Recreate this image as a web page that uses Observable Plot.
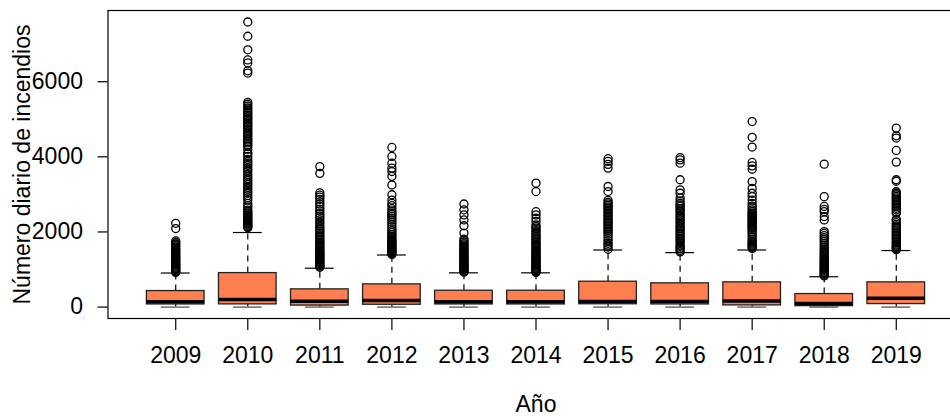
<!DOCTYPE html>
<html>
<head>
<meta charset="utf-8">
<script src="https://cdn.jsdelivr.net/npm/d3@7"></script>
<script src="https://cdn.jsdelivr.net/npm/@observablehq/plot@0.6"></script>
<style>
  html, body { margin: 0; padding: 0; background: white; overflow: hidden; }
</style>
</head>
<body>
<div id="chart"></div>
<script>
// Daily number of wildfires per year: box summaries and outlying days
const years = ["2009", "2010", "2011", "2012", "2013", "2014", "2015", "2016", "2017", "2018", "2019"];
const lower = [0, 0, 0, 0, 0, 0, 0, 0, 0, 0, 0];
const q1 = [70, 72, 40, 62, 70, 70, 75, 70, 45, 25, 80];
const median = [145, 205, 155, 173, 145, 145, 147, 147, 160, 95, 232];
const q3 = [427, 905, 472, 605, 435, 435, 675, 632, 658, 347, 658];
const upper = [907, 1985, 1035, 1387, 912, 912, 1520, 1450, 1520, 808, 1505];

const outliers = [
  // 2009
  [925, 950, 970, 995, 1020, 1040, 1065, 1090, 1115, 1140, 1160, 1190, 1215, 1240, 1270, 1295, 1320, 1350,
   1380, 1410, 1440, 1470, 1500, 1530, 1560, 1600, 1640, 1680, 1720, 1760, 2090, 2230],
  // 2010
  [2115, 2140, 2160, 2190, 2215, 2245, 2270, 2300, 2330, 2355, 2390, 2420, 2450, 2480, 2510, 2545, 2580,
   2640, 2700, 2760, 2850, 2910, 2970, 3030, 3080, 3140, 3190, 3260, 3310, 3370, 3420, 3480, 3530, 3600,
   3650, 3700, 3770, 3820, 3870, 3930, 4010, 4080, 4110, 4200, 4280, 4320, 4370, 4410, 4450, 4490, 4540,
   4580, 4620, 4660, 4710, 4750, 4800, 4840, 4890, 4930, 4980, 5020, 5070, 5110, 5160, 5200, 5250, 5300,
   5350, 5400, 5450, 6230, 6290, 6500, 6580, 6850, 7210, 7590],
  // 2011
  [1060, 1085, 1110, 1130, 1160, 1185, 1210, 1240, 1265, 1290, 1320, 1350, 1375, 1400, 1430, 1460, 1490,
   1520, 1550, 1585, 1620, 1650, 1690, 1720, 1760, 1800, 1840, 1880, 1920, 1970, 2010, 2060, 2100, 2150,
   2210, 2260, 2320, 2380, 2430, 2490, 2560, 2610, 2680, 2740, 2800, 2870, 2930, 2980, 3040, 3560, 3740],
  // 2012
  [1400, 1425, 1450, 1475, 1500, 1530, 1555, 1580, 1610, 1640, 1665, 1690, 1720, 1750, 1780, 1810, 1850,
   1890, 1930, 1980, 2030, 2080, 2140, 2200, 2260, 2320, 2370, 2420, 2470, 2510, 2560, 2620, 2700, 2760,
   2850, 2990, 3250, 3480, 3610, 3700, 3830, 4010, 4250],
  // 2013
  [930, 955, 975, 1000, 1025, 1050, 1075, 1100, 1125, 1150, 1175, 1200, 1230, 1255, 1280, 1310, 1340,
   1370, 1400, 1430, 1460, 1490, 1520, 1550, 1585, 1620, 1655, 1690, 1730, 1770, 1810, 1970, 2165, 2320,
   2455, 2590, 2745],
  // 2014
  [925, 950, 970, 995, 1020, 1045, 1070, 1095, 1120, 1145, 1170, 1200, 1225, 1250, 1280, 1305, 1335,
   1365, 1395, 1425, 1455, 1490, 1520, 1550, 1585, 1620, 1650, 1685, 1720, 1760, 1800, 1840, 1880, 1920,
   1965, 2010, 2050, 2100, 2140, 2185, 2280, 2365, 2455, 2540, 3075, 3300],
  // 2015
  [1540, 1600, 1650, 1700, 1760, 1820, 1880, 1940, 1990, 2030, 2070, 2110, 2150, 2190, 2230, 2270, 2310,
   2350, 2390, 2430, 2470, 2510, 2550, 2590, 2630, 2670, 2710, 2750, 2790, 2840, 3075, 3210, 3700, 3800,
   3880, 3950],
  // 2016
  [1470, 1510, 1560, 1600, 1640, 1700, 1750, 1790, 1830, 1880, 1920, 1965, 2010, 2050, 2100, 2140, 2180,
   2230, 2270, 2320, 2365, 2410, 2450, 2500, 2550, 2590, 2630, 2680, 2720, 2765, 2820, 2900, 3030, 3120,
   3390, 3830, 3920, 3980],
  // 2017
  [1560, 1590, 1620, 1650, 1680, 1710, 1750, 1800, 1860, 1920, 1970, 2010, 2050, 2090, 2120, 2150, 2180,
   2210, 2240, 2270, 2300, 2330, 2360, 2390, 2420, 2450, 2480, 2510, 2550, 2590, 2640, 2690, 2760, 2850,
   2940, 3030, 3160, 3340, 3670, 3760, 3850, 4260, 4520, 4940],
  // 2018
  [830, 855, 880, 905, 930, 955, 980, 1005, 1030, 1060, 1090, 1120, 1150, 1180, 1210, 1240, 1270, 1300,
   1340, 1380, 1420, 1460, 1500, 1550, 1600, 1650, 1700, 1750, 1800, 1850, 1900, 1960, 2010, 2320, 2410,
   2540, 2600, 2680, 2940, 3805],
  // 2019
  [1530, 1560, 1590, 1620, 1650, 1680, 1720, 1760, 1800, 1840, 1880, 1920, 1960, 2000, 2040, 2080, 2120,
   2160, 2200, 2250, 2300, 2340, 2500, 2540, 2590, 2630, 2670, 2710, 2750, 2790, 2830, 2870, 2910, 2950,
   2990, 3030, 3070, 3350, 3390, 3860, 4170, 4500, 4560, 4765]
];

const yTicks = [0, 2000, 4000, 6000];

// Table built from the arrays above; boxes sit at positions 1..n
const stats = years.map((year, i) => ({
  pos: i + 1, year,
  lo: lower[i], q1: q1[i], med: median[i], q3: q3[i], hi: upper[i]
}));
const points = outliers.flatMap((vals, i) => vals.map(v => ({pos: i + 1, v})));

const boxHalf = 0.4;
const capHalf = 0.2;
const fillColor = "#FF7F50";

const chart = Plot.plot({
  width: 950,
  height: 416,
  marginLeft: 107.5,
  marginRight: -13.5,
  marginTop: 10,
  marginBottom: 98,
  style: {
    fontFamily: "'Liberation Sans', Arial, sans-serif",
    fontSize: "23px",
    background: "white",
    color: "black"
  },
  x: {type: "linear", domain: [0.06, years.length + 0.94]},
  y: {domain: [-304, 7896]},
  marks: [
    // dashed whiskers
    Plot.ruleX(stats, {x: "pos", y1: "q3", y2: "hi", stroke: "black", strokeWidth: 1.2, strokeDasharray: "6,5"}),
    Plot.ruleX(stats, {x: "pos", y1: "lo", y2: "q1", stroke: "black", strokeWidth: 1.2, strokeDasharray: "6,5"}),
    // whisker caps
    Plot.ruleY(stats, {y: "hi", x1: d => d.pos - capHalf, x2: d => d.pos + capHalf, stroke: "black", strokeWidth: 1.2}),
    Plot.ruleY(stats, {y: "lo", x1: d => d.pos - capHalf, x2: d => d.pos + capHalf, stroke: "#444", strokeWidth: 1.2}),
    // interquartile boxes
    Plot.rect(stats, {
      x1: d => d.pos - boxHalf, x2: d => d.pos + boxHalf, y1: "q1", y2: "q3",
      fill: fillColor, stroke: "#222", strokeWidth: 1.3
    }),
    // medians
    Plot.ruleY(stats, {y: "med", x1: d => d.pos - boxHalf, x2: d => d.pos + boxHalf, stroke: "black", strokeWidth: 3.5}),
    // outlying days
    Plot.dot(points, {x: "pos", y: "v", r: 4, stroke: "black", strokeWidth: 1.3, fill: "none"}),
    Plot.frame({stroke: "black", strokeWidth: 1.2}),
    Plot.axisY({
      ticks: yTicks, tickFormat: d => String(d),
      tickSize: 10, tickPadding: 15, label: null, fontSize: 23, strokeWidth: 1.2
    }),
    Plot.axisX({
      ticks: stats.map(d => d.pos), tickFormat: p => years[p - 1],
      tickSize: 12, tickPadding: 16, label: null, fontSize: 23, strokeWidth: 1.2
    }),
    Plot.text(["Número diario de incendios"], {
      frameAnchor: "left", textAnchor: "middle", rotate: -90, dx: -78.5,
      lineAnchor: "bottom", fontSize: 23
    }),
    Plot.text(["Año"], {
      frameAnchor: "bottom", textAnchor: "middle", dy: 93, lineAnchor: "bottom", fontSize: 23
    })
  ]
});

document.getElementById("chart").appendChild(chart);
</script>
</body>
</html>
